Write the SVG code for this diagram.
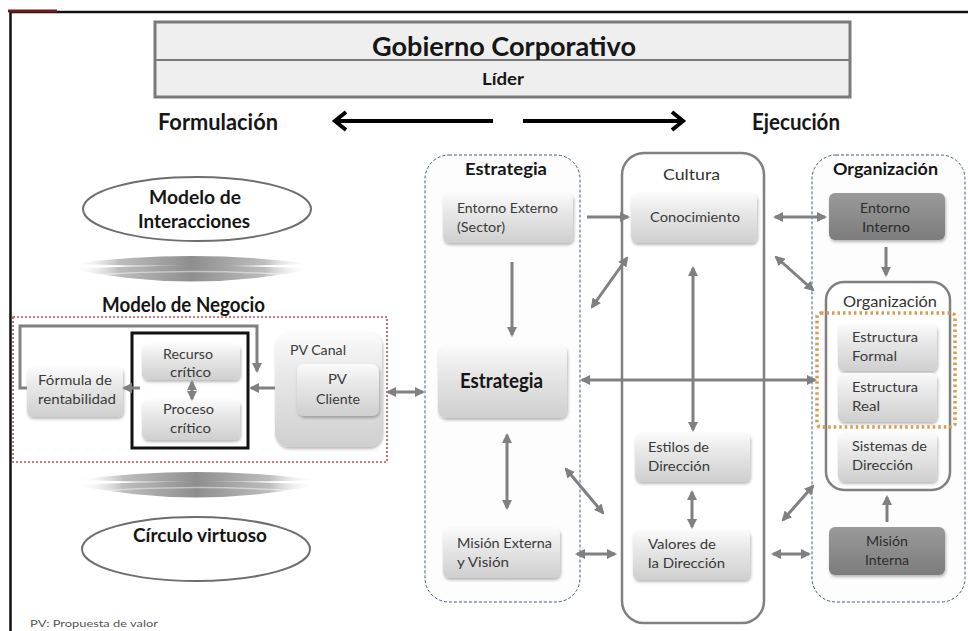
<svg xmlns="http://www.w3.org/2000/svg" width="968" height="631" viewBox="0 0 968 631">
  <defs>
    <style>
      text { font-family: Lato, "Liberation Sans", sans-serif; }
      .b { font-weight: bold; fill: #161616; }
      .n { fill: #3a3a3a; font-size: 14px; }
      .nd { fill: #2e2e2e; font-size: 14px; }
      .box { fill: url(#gBox); filter: url(#sh); }
      .dark { fill: url(#gDark); filter: url(#sh); }
      .col { fill: #fdfdfd; stroke: #3f5f7f; stroke-width: 1; stroke-dasharray: 3 2; }
      .solid { fill: #ffffff; stroke: #808080; stroke-width: 2.5; }
      .ar { fill: none; stroke: #808080; stroke-width: 3; marker-end: url(#ah); }
      .ar2 { fill: none; stroke: #808080; stroke-width: 3; marker-start: url(#ah); marker-end: url(#ah); }
      .big { fill: none; stroke: #000; stroke-width: 4; stroke-linecap: butt; }
      .ell { fill: #ffffff; stroke: #6e6e6e; stroke-width: 2; }
    </style>
    <linearGradient id="gBox" x1="0" y1="0" x2="0" y2="1">
      <stop offset="0" stop-color="#fbfbfb"/>
      <stop offset="0.35" stop-color="#e9e9e9"/>
      <stop offset="1" stop-color="#cfcfcf"/>
    </linearGradient>
    <linearGradient id="gDark" x1="0" y1="0" x2="0" y2="1">
      <stop offset="0" stop-color="#9a9a9a"/>
      <stop offset="1" stop-color="#7c7c7c"/>
    </linearGradient>
    <linearGradient id="gLens" x1="0" y1="0" x2="1" y2="0">
      <stop offset="0" stop-color="#ffffff" stop-opacity="0"/>
      <stop offset="0.2" stop-color="#bdbdbd"/>
      <stop offset="0.5" stop-color="#8e8e8e"/>
      <stop offset="0.8" stop-color="#bdbdbd"/>
      <stop offset="1" stop-color="#ffffff" stop-opacity="0"/>
    </linearGradient>
    <filter id="sh" x="-10%" y="-10%" width="125%" height="135%">
      <feDropShadow dx="1" dy="2" stdDeviation="1.5" flood-color="#000" flood-opacity="0.28"/>
    </filter>
    <marker id="ah" viewBox="0 0 10 10" refX="8" refY="5" markerWidth="3.4" markerHeight="3.4" orient="auto-start-reverse">
      <path d="M0,0 L10,5 L0,10 z" fill="#808080"/>
    </marker>
    <!-- double lens separator -->
    <g id="lens">
      <path d="M0,10 Q121,-6 243,10 Q121,14 0,10 Z" fill="url(#gLens)"/>
      <path d="M0,15 Q121,8 243,15 Q121,40 0,15 Z" fill="url(#gLens)"/>
      <path d="M20,21 Q121,14 223,21" fill="none" stroke="#ffffff" stroke-opacity="0.45" stroke-width="1.5"/>
    </g>
  </defs>

  <rect width="968" height="631" fill="#ffffff"/>

  <!-- page frame -->
  <path d="M10.5,631 V12 H968" fill="none" stroke="#111" stroke-width="2.5"/>
  <line x1="8" y1="11" x2="57" y2="11" stroke="#6e1a1e" stroke-width="3"/>

  <!-- header -->
  <g id="gobierno">
    <rect x="155" y="22" width="695" height="75" fill="#efefef" stroke="#7a7a7a" stroke-width="3"/>
    <line x1="155" y1="60" x2="850" y2="60" stroke="#7a7a7a" stroke-width="2"/>
    <text class="b" x="372" y="56" font-size="27" textLength="264" lengthAdjust="spacingAndGlyphs">Gobierno Corporativo</text>
    <text class="b" x="482" y="85" font-size="17" textLength="42" lengthAdjust="spacingAndGlyphs">Líder</text>
  </g>

  <g id="formulacion-ejecucion">
    <text class="b" x="158" y="130" font-size="23" textLength="120" lengthAdjust="spacingAndGlyphs">Formulación</text>
    <text class="b" x="752" y="130" font-size="23" textLength="88" lengthAdjust="spacingAndGlyphs">Ejecución</text>
    <line class="big" x1="336" y1="121" x2="493" y2="121"/>
    <polyline class="big" points="346,112 335,121 346,130"/>
    <line class="big" x1="523" y1="121" x2="682" y2="121"/>
    <polyline class="big" points="672,112 683,121 672,130"/>
  </g>

  <!-- left panel -->
  <g id="modelo-interacciones">
    <ellipse class="ell" cx="197" cy="209" rx="114" ry="32"/>
    <text class="b" x="149" y="204" font-size="18" textLength="92" lengthAdjust="spacingAndGlyphs">Modelo de</text>
    <text class="b" x="138" y="228" font-size="18" textLength="112" lengthAdjust="spacingAndGlyphs">Interacciones</text>
  </g>
  <use href="#lens" x="70" y="254"/>
  <use href="#lens" x="75" y="470"/>

  <g id="modelo-negocio">
    <text class="b" x="102" y="312" font-size="20" textLength="163" lengthAdjust="spacingAndGlyphs">Modelo de Negocio</text>
    <rect x="13" y="317" width="374" height="145" fill="none" stroke="#c0504d" stroke-width="1.6" stroke-dasharray="2 2"/>
  </g>

  <g id="formula">
    <rect class="box" x="27" y="367" width="96" height="50" rx="6"/>
    <text class="n" x="38" y="385" textLength="74" lengthAdjust="spacingAndGlyphs">Fórmula de</text>
    <text class="n" x="38" y="404" textLength="78" lengthAdjust="spacingAndGlyphs">rentabilidad</text>
  </g>

  <g id="recursos-procesos">
    <rect x="132" y="333" width="116" height="115" fill="#fff" stroke="#111" stroke-width="3"/>
    <rect class="box" x="142" y="344" width="98" height="36" rx="6"/>
    <text class="n" x="163" y="359" textLength="50" lengthAdjust="spacingAndGlyphs">Recurso</text>
    <text class="n" x="170" y="377" textLength="41" lengthAdjust="spacingAndGlyphs">crítico</text>
    <rect class="box" x="142" y="400" width="98" height="40" rx="6"/>
    <text class="n" x="163" y="414" textLength="51" lengthAdjust="spacingAndGlyphs">Proceso</text>
    <text class="n" x="170" y="433" textLength="41" lengthAdjust="spacingAndGlyphs">crítico</text>
  </g>

  <g id="pv-canal">
    <rect class="box" x="275" y="332" width="107" height="115" rx="14"/>
    <text class="n" x="290" y="355" textLength="56" lengthAdjust="spacingAndGlyphs">PV Canal</text>
    <rect class="box" x="297" y="364" width="82" height="52" rx="7"/>
    <text class="n" x="328" y="384" textLength="19" lengthAdjust="spacingAndGlyphs">PV</text>
    <text class="n" x="316" y="404" textLength="44" lengthAdjust="spacingAndGlyphs">Cliente</text>
  </g>

  <g id="circulo-virtuoso">
    <ellipse class="ell" cx="196" cy="549" rx="114" ry="32"/>
    <text class="b" x="133" y="542" font-size="18" textLength="134" lengthAdjust="spacingAndGlyphs">Círculo virtuoso</text>
  </g>

  <text x="30" y="627" font-size="10" fill="#555" textLength="128" lengthAdjust="spacingAndGlyphs">PV: Propuesta de valor</text>

  <!-- columns -->
  <g id="col-estrategia">
    <rect class="col" x="425" y="155" width="155" height="447" rx="24"/>
    <text class="b" x="465" y="175" font-size="17" textLength="82" lengthAdjust="spacingAndGlyphs">Estrategia</text>
  </g>
  <g id="col-cultura">
    <rect class="solid" x="622" y="153" width="142" height="470" rx="22"/>
    <text x="663" y="180" font-size="15" fill="#333" textLength="57" lengthAdjust="spacingAndGlyphs">Cultura</text>
  </g>
  <g id="col-organizacion">
    <rect class="col" x="812" y="155" width="153" height="447" rx="24"/>
    <text class="b" x="833" y="175" font-size="17" textLength="105" lengthAdjust="spacingAndGlyphs">Organización</text>
  </g>

  <!-- Estrategia column nodes -->
  <g id="entorno-externo">
    <rect class="box" x="443" y="193" width="130" height="50" rx="6"/>
    <text class="n" x="457" y="213" textLength="101" lengthAdjust="spacingAndGlyphs">Entorno Externo</text>
    <text class="n" x="457" y="232" textLength="48" lengthAdjust="spacingAndGlyphs">(Sector)</text>
  </g>
  <g id="estrategia">
    <rect class="box" x="438" y="345" width="129" height="73" rx="8"/>
    <text class="b" x="460" y="388" font-size="20" textLength="83" lengthAdjust="spacingAndGlyphs">Estrategia</text>
  </g>
  <g id="mision-externa">
    <rect class="box" x="443" y="528" width="117" height="50" rx="6"/>
    <text class="n" x="457" y="548" textLength="95" lengthAdjust="spacingAndGlyphs">Misión Externa</text>
    <text class="n" x="457" y="567" textLength="52" lengthAdjust="spacingAndGlyphs">y Visión</text>
  </g>

  <!-- Cultura column nodes -->
  <g id="conocimiento">
    <rect class="box" x="631" y="193" width="126" height="50" rx="6"/>
    <text class="n" x="650" y="222" textLength="90" lengthAdjust="spacingAndGlyphs">Conocimiento</text>
  </g>
  <g id="estilos">
    <rect class="box" x="635" y="433" width="115" height="49" rx="6"/>
    <text class="n" x="648" y="452" textLength="61" lengthAdjust="spacingAndGlyphs">Estilos de</text>
    <text class="n" x="648" y="471" textLength="62" lengthAdjust="spacingAndGlyphs">Dirección</text>
  </g>
  <g id="valores">
    <rect class="box" x="633" y="530" width="117" height="50" rx="6"/>
    <text class="n" x="648" y="549" textLength="68" lengthAdjust="spacingAndGlyphs">Valores de</text>
    <text class="n" x="648" y="568" textLength="77" lengthAdjust="spacingAndGlyphs">la Dirección</text>
  </g>

  <!-- Organización column nodes -->
  <g id="entorno-interno">
    <rect class="dark" x="829" y="193" width="116" height="47" rx="6"/>
    <text class="nd" x="860" y="213" textLength="50" lengthAdjust="spacingAndGlyphs">Entorno</text>
    <text class="nd" x="862" y="232" textLength="48" lengthAdjust="spacingAndGlyphs">Interno</text>
  </g>
  <g id="organizacion-interna">
    <rect class="solid" x="826" y="282" width="124" height="208" rx="18"/>
    <text x="843" y="307" font-size="15" fill="#333" textLength="94" lengthAdjust="spacingAndGlyphs">Organización</text>
  </g>
  <g id="estructura-formal">
    <rect class="box" x="838" y="324" width="99" height="47" rx="6"/>
    <text class="n" x="852" y="342" textLength="66" lengthAdjust="spacingAndGlyphs">Estructura</text>
    <text class="n" x="852" y="361" textLength="45" lengthAdjust="spacingAndGlyphs">Formal</text>
  </g>
  <g id="estructura-real">
    <rect class="box" x="838" y="373" width="99" height="49" rx="6"/>
    <text class="n" x="852" y="392" textLength="66" lengthAdjust="spacingAndGlyphs">Estructura</text>
    <text class="n" x="852" y="411" textLength="28" lengthAdjust="spacingAndGlyphs">Real</text>
  </g>
  <rect x="817" y="313" width="138" height="114" rx="4" fill="none" stroke="#d79b52" stroke-width="3.5" stroke-dasharray="2.5 3"/>
  <g id="sistemas">
    <rect class="box" x="838" y="433" width="99" height="49" rx="6"/>
    <text class="n" x="852" y="451" textLength="75" lengthAdjust="spacingAndGlyphs">Sistemas de</text>
    <text class="n" x="852" y="470" textLength="61" lengthAdjust="spacingAndGlyphs">Dirección</text>
  </g>
  <g id="mision-interna">
    <rect class="dark" x="829" y="527" width="116" height="48" rx="6"/>
    <text class="nd" x="866" y="546" textLength="42" lengthAdjust="spacingAndGlyphs">Misión</text>
    <text class="nd" x="865" y="565" textLength="44" lengthAdjust="spacingAndGlyphs">Interna</text>
  </g>

  <!-- connectors -->
  <g id="connectors">
    <path class="ar" d="M27,388 H20 V326 H257 V371"/>
    <line class="ar" x1="140" y1="388" x2="124" y2="388"/>
    <line class="ar" x1="275" y1="388" x2="251" y2="388"/>
    <line class="ar2" x1="192" y1="382" x2="192" y2="399"/>
    <line class="ar2" x1="388" y1="392" x2="423" y2="392"/>

    <line class="ar" x1="512" y1="262" x2="512" y2="335"/>
    <line class="ar2" x1="507" y1="435" x2="507" y2="508"/>
    <line class="ar" x1="587" y1="217" x2="628" y2="217"/>
    <line class="ar2" x1="627" y1="258" x2="592" y2="307"/>
    <line class="ar2" x1="582" y1="380" x2="815" y2="380"/>
    <line class="ar2" x1="693" y1="268" x2="693" y2="430"/>
    <line class="ar2" x1="566" y1="469" x2="603" y2="513"/>
    <line class="ar2" x1="577" y1="554" x2="615" y2="554"/>
    <line class="ar2" x1="692" y1="492" x2="692" y2="527"/>

    <line class="ar2" x1="775" y1="217" x2="825" y2="217"/>
    <line class="ar2" x1="776" y1="257" x2="813" y2="290"/>
    <line class="ar" x1="886" y1="247" x2="886" y2="275"/>
    <line class="ar2" x1="783" y1="520" x2="813" y2="486"/>
    <line class="ar2" x1="773" y1="554" x2="809" y2="554"/>
    <line class="ar" x1="887" y1="522" x2="887" y2="497"/>
  </g>
</svg>
